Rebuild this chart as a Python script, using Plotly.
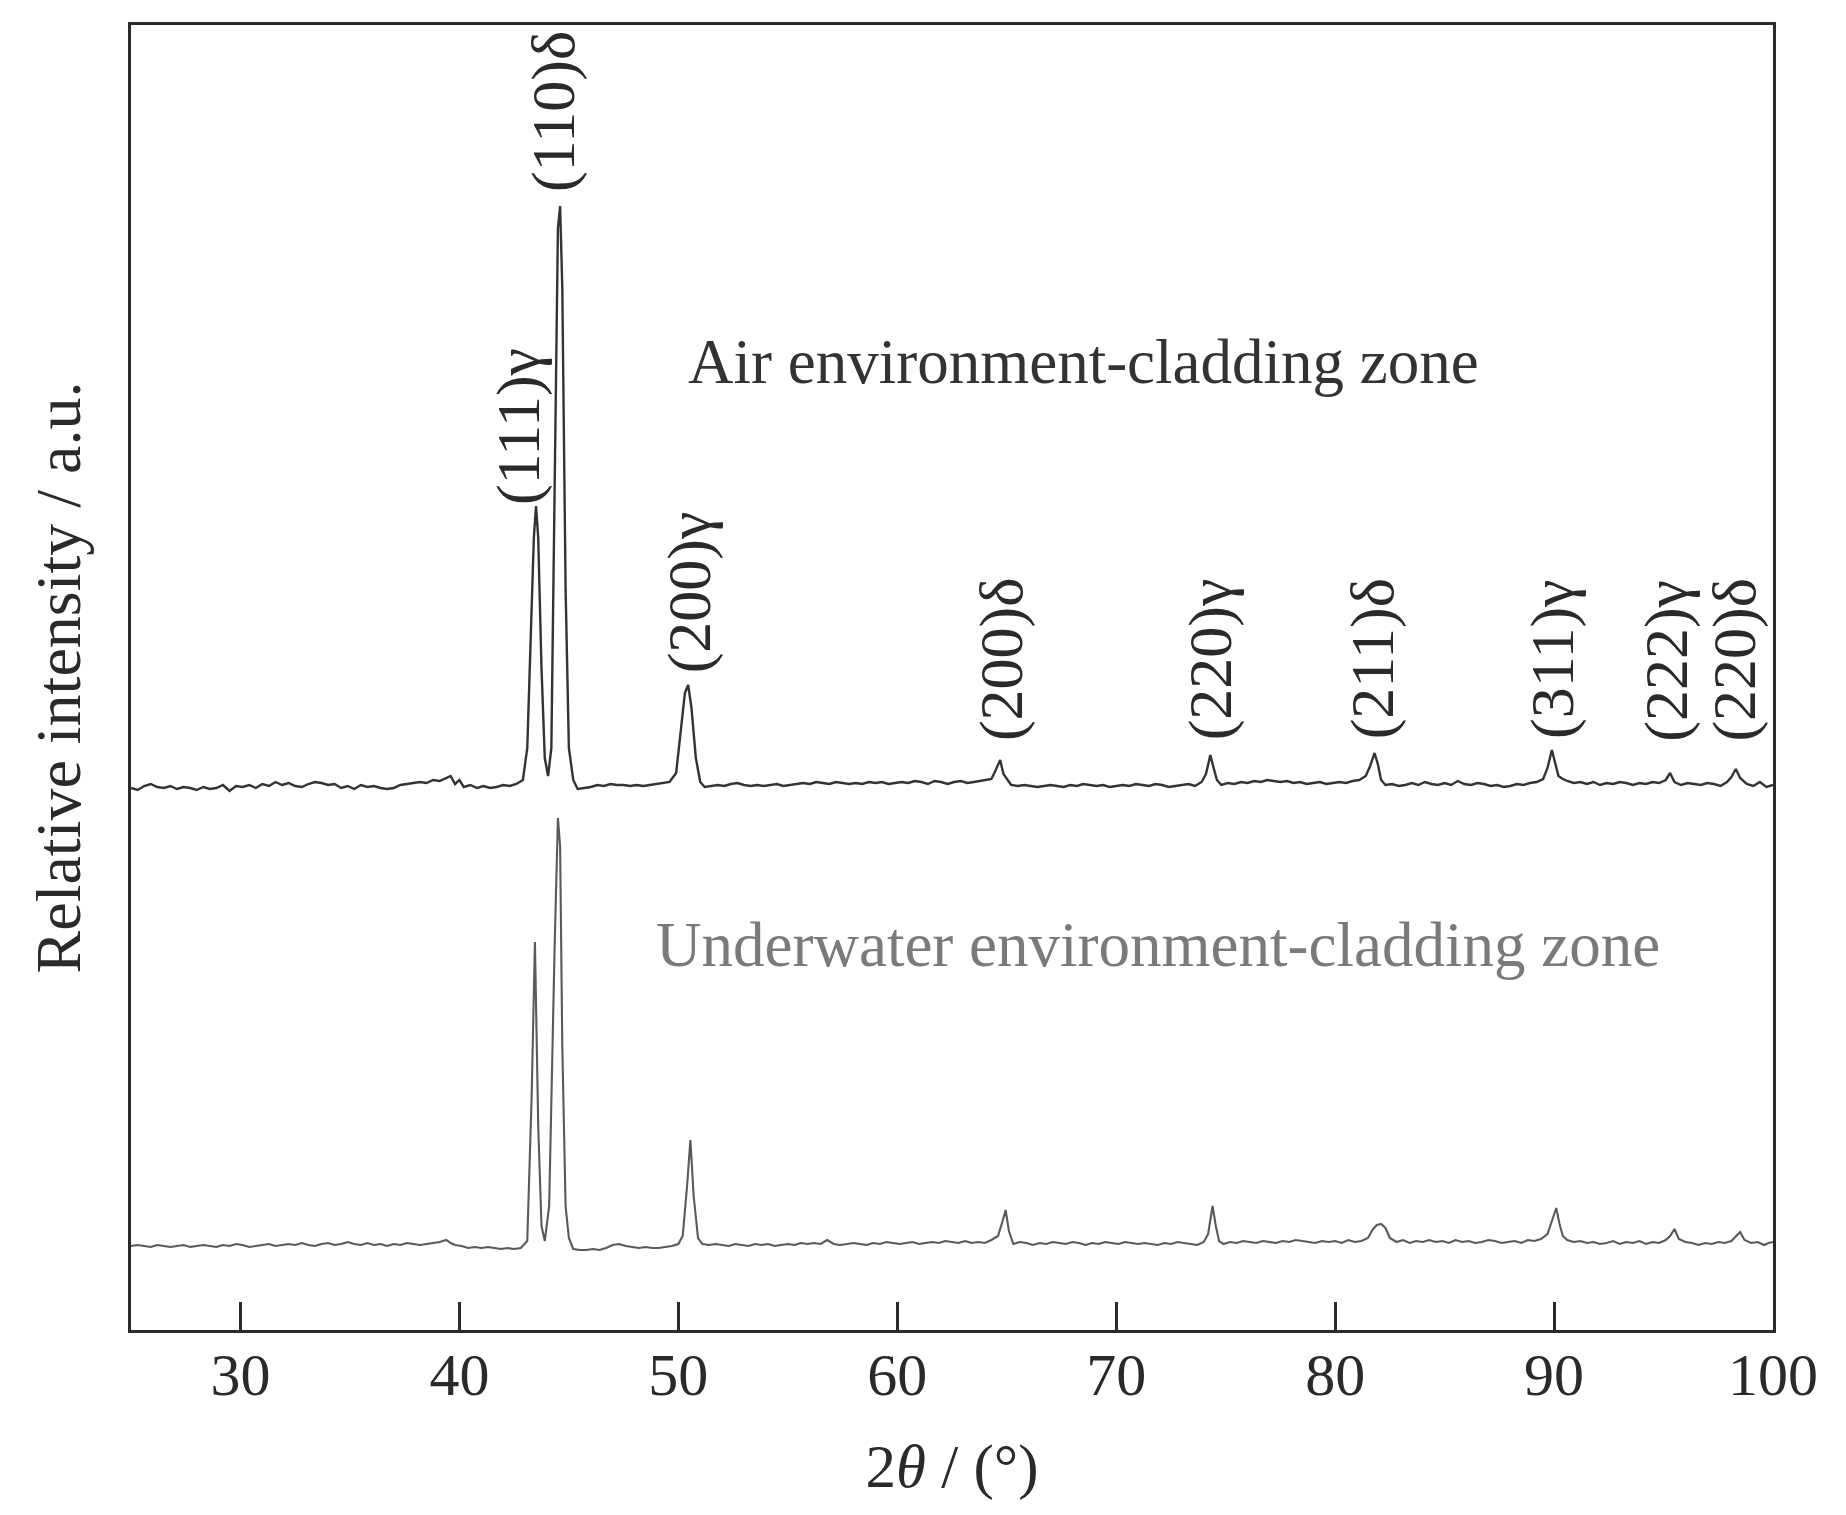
import plotly.graph_objects as go

# ---------------- data ----------------
# Air environment-cladding zone: 2theta (deg) and intensity above its own baseline (a.u.)
air_two_theta = [
    25.0, 25.3, 25.6, 25.9, 26.2, 26.5, 26.8, 27.1, 27.4, 27.7, 28.0, 28.3, 28.6, 28.9,
    29.2, 29.5, 29.8, 30.1, 30.4, 30.7, 31.0, 31.3, 31.6, 31.9, 32.2, 32.5, 32.8, 33.1,
    33.4, 33.7, 34.0, 34.3, 34.6, 34.9, 35.2, 35.5, 35.8, 36.1, 36.4, 36.7, 37.0, 37.3,
    37.6, 37.9, 38.2, 38.5, 38.8, 39.1, 39.4, 39.6, 39.8, 40.0, 40.2, 40.5, 40.8, 41.1,
    41.4, 41.7, 42.0, 42.3, 42.6, 42.9, 43.1, 43.25, 43.4, 43.5, 43.6, 43.75, 43.9, 44.05,
    44.2, 44.35, 44.5, 44.6, 44.7, 44.85, 45.0, 45.2, 45.4, 45.7, 46.0, 46.3, 46.6, 46.9,
    47.2, 47.5, 47.8, 48.1, 48.4, 48.7, 49.0, 49.3, 49.6, 49.9, 50.1, 50.3, 50.45, 50.6,
    50.8, 51.0, 51.2, 51.5, 51.8, 52.1, 52.4, 52.7, 53.0, 53.3, 53.6, 53.9, 54.2, 54.5,
    54.8, 55.1, 55.4, 55.7, 56.0, 56.3, 56.6, 56.9, 57.2, 57.5, 57.8, 58.1, 58.4, 58.7,
    59.0, 59.3, 59.6, 59.9, 60.2, 60.5, 60.8, 61.1, 61.4, 61.7, 62.0, 62.3, 62.6, 62.9,
    63.2, 63.5, 63.8, 64.1, 64.3, 64.5, 64.7, 64.85, 65.0, 65.2, 65.5, 65.8, 66.1, 66.4,
    66.7, 67.0, 67.3, 67.6, 67.9, 68.2, 68.5, 68.8, 69.1, 69.4, 69.7, 70.0, 70.3, 70.6,
    70.9, 71.2, 71.5, 71.8, 72.1, 72.4, 72.7, 73.0, 73.3, 73.6, 73.9, 74.1, 74.3, 74.45,
    74.6, 74.8, 75.1, 75.4, 75.7, 76.0, 76.3, 76.6, 76.9, 77.2, 77.5, 77.8, 78.1, 78.4,
    78.7, 79.0, 79.3, 79.6, 79.9, 80.2, 80.5, 80.8, 81.1, 81.4, 81.6, 81.8, 81.95, 82.1,
    82.3, 82.6, 82.9, 83.2, 83.5, 83.8, 84.1, 84.4, 84.7, 85.0, 85.3, 85.6, 85.9, 86.2,
    86.5, 86.8, 87.1, 87.4, 87.7, 88.0, 88.3, 88.6, 88.9, 89.2, 89.5, 89.7, 89.9, 90.05,
    90.2, 90.4, 90.6, 90.9, 91.2, 91.5, 91.8, 92.1, 92.4, 92.7, 93.0, 93.3, 93.6, 93.9,
    94.2, 94.5, 94.8, 95.1, 95.3, 95.5, 95.8, 96.1, 96.4, 96.7, 97.0, 97.3, 97.6, 97.9,
    98.1, 98.3, 98.5, 98.8, 99.1, 99.4, 99.7, 100.0,
]
air_intensity = [
    0, -2, 2, 4, 1, 0, 2, -1, 1, 0, -2, 1, -1, 0,
    3, -3, 2, 1, 3, 0, 4, 2, 6, 3, 5, 2, 1, 4,
    6, 5, 3, 4, 0, 2, -1, 3, 1, 2, 0, -1, 0, 3,
    4, 5, 6, 5, 8, 7, 10, 12, 4, 8, 1, 3, 0, 2,
    0, 1, 3, 2, 4, 8, 40, 150, 250, 282, 250, 120, 30, 12,
    40, 300, 560, 582, 500, 200, 40, 8, -1, 0, 1, 3, 2, 4,
    3, 3, 2, 3, 2, 3, 4, 5, 6, 15, 55, 95, 103, 80,
    30, 6, 1, 2, 3, 2, 4, 5, 3, 2, 3, 2, 3, 4,
    2, 3, 4, 5, 4, 6, 5, 4, 6, 5, 4, 5, 4, 6,
    5, 6, 4, 5, 6, 5, 7, 6, 4, 7, 6, 4, 6, 7,
    5, 6, 7, 8, 9, 18, 28, 14, 9, 3, 2, 3, 2, 1,
    2, 3, 2, 1, 3, 2, 4, 3, 2, 3, 1, 2, 3, 2,
    4, 3, 2, 4, 3, 1, 2, 3, 4, 2, 6, 14, 33, 20,
    8, 3, 5, 4, 6, 5, 7, 6, 8, 7, 6, 7, 5, 6,
    4, 5, 6, 4, 5, 6, 5, 7, 8, 12, 22, 35, 24, 8,
    3, 4, 2, 3, 5, 3, 6, 4, 3, 5, 3, 7, 4, 3,
    5, 4, 2, 3, 1, 2, 4, 3, 5, 6, 9, 20, 38, 26,
    12, 9, 7, 5, 6, 4, 6, 3, 5, 4, 6, 5, 3, 5,
    4, 6, 5, 8, 15, 6, 3, 5, 4, 3, 5, 4, 2, 6,
    11, 19, 10, 4, 2, 6, 1, 3,
]

# Underwater environment-cladding zone
water_two_theta = [
    25.0, 25.3, 25.6, 25.9, 26.2, 26.5, 26.8, 27.1, 27.4, 27.7, 28.0, 28.3, 28.6, 28.9,
    29.2, 29.5, 29.8, 30.1, 30.4, 30.7, 31.0, 31.3, 31.6, 31.9, 32.2, 32.5, 32.8, 33.1,
    33.4, 33.7, 34.0, 34.3, 34.6, 34.9, 35.2, 35.5, 35.8, 36.1, 36.4, 36.7, 37.0, 37.3,
    37.6, 37.9, 38.2, 38.5, 38.8, 39.1, 39.4, 39.6, 39.8, 40.1, 40.4, 40.7, 41.0, 41.3,
    41.6, 41.9, 42.2, 42.5, 42.8, 43.1, 43.3, 43.45, 43.6, 43.75, 43.9, 44.1, 44.35, 44.5,
    44.6, 44.7, 44.85, 45.0, 45.2, 45.5, 45.8, 46.1, 46.4, 46.7, 47.0, 47.3, 47.6, 47.9,
    48.2, 48.5, 48.8, 49.1, 49.4, 49.7, 50.0, 50.2, 50.4, 50.55, 50.7, 50.9, 51.1, 51.4,
    51.7, 52.0, 52.3, 52.6, 52.9, 53.2, 53.5, 53.8, 54.1, 54.4, 54.7, 55.0, 55.3, 55.6,
    55.9, 56.2, 56.5, 56.8, 57.1, 57.4, 57.7, 58.0, 58.3, 58.6, 58.9, 59.2, 59.5, 59.8,
    60.1, 60.4, 60.7, 61.0, 61.3, 61.6, 61.9, 62.2, 62.5, 62.8, 63.1, 63.4, 63.7, 64.0,
    64.3, 64.6, 64.8, 64.95, 65.1, 65.3, 65.6, 65.9, 66.2, 66.5, 66.8, 67.1, 67.4, 67.7,
    68.0, 68.3, 68.6, 68.9, 69.2, 69.5, 69.8, 70.1, 70.4, 70.7, 71.0, 71.3, 71.6, 71.9,
    72.2, 72.5, 72.8, 73.1, 73.4, 73.7, 74.0, 74.2, 74.4, 74.55, 74.7, 74.9, 75.2, 75.5,
    75.8, 76.1, 76.4, 76.7, 77.0, 77.3, 77.6, 77.9, 78.2, 78.5, 78.8, 79.1, 79.4, 79.7,
    80.0, 80.3, 80.6, 80.9, 81.2, 81.5, 81.7, 81.9, 82.1, 82.3, 82.5, 82.8, 83.1, 83.4,
    83.7, 84.0, 84.3, 84.6, 84.9, 85.2, 85.5, 85.8, 86.1, 86.4, 86.7, 87.0, 87.3, 87.6,
    87.9, 88.2, 88.5, 88.8, 89.1, 89.4, 89.7, 89.9, 90.1, 90.25, 90.4, 90.6, 90.9, 91.2,
    91.5, 91.8, 92.1, 92.4, 92.7, 93.0, 93.3, 93.6, 93.9, 94.2, 94.5, 94.8, 95.1, 95.3,
    95.5, 95.7, 96.0, 96.3, 96.6, 96.9, 97.2, 97.5, 97.8, 98.1, 98.3, 98.5, 98.7, 99.0,
    99.3, 99.6, 99.8, 100.0,
]
water_intensity = [
    0, 1, 0, -1, 1, 0, -1, 0, 1, -1, 0, 1, 0, -1,
    1, 0, 2, 1, -1, 0, 1, 2, 0, 1, 2, 1, 3, 1,
    0, 2, 3, 1, 2, 4, 2, 1, 3, 1, 2, 0, 2, 1,
    3, 2, 1, 2, 3, 4, 6, 3, 1, 0, -2, -1, -2, -1,
    -2, -3, -2, -3, -2, 5, 150, 304, 120, 20, 5, 40, 300, 428,
    400, 200, 40, 8, -3, -4, -4, -3, -4, -2, 1, 2, 0, -1,
    -2, -1, -2, -2, -1, 0, 2, 10, 60, 106, 50, 8, 2, 1,
    2, 1, 0, 2, 1, 0, 2, 1, 2, 0, 1, 2, 1, 3,
    2, 3, 2, 6, 2, 1, 2, 3, 2, 1, 3, 2, 4, 3,
    2, 3, 4, 2, 3, 4, 3, 5, 4, 3, 5, 3, 4, 3,
    6, 10, 24, 36, 15, 2, 4, 3, 1, 3, 2, 4, 3, 2,
    4, 3, 1, 3, 2, 4, 3, 2, 4, 3, 2, 3, 2, 1,
    3, 2, 4, 3, 2, 1, 4, 12, 40, 20, 5, 2, 4, 3,
    5, 4, 3, 5, 4, 3, 5, 4, 6, 5, 4, 3, 5, 4,
    5, 3, 6, 4, 5, 8, 16, 21, 22, 18, 8, 4, 6, 3,
    5, 4, 6, 4, 5, 3, 6, 4, 5, 3, 4, 6, 5, 3,
    4, 5, 3, 6, 5, 7, 12, 24, 38, 22, 10, 6, 4, 5,
    3, 4, 2, 3, 5, 2, 4, 3, 5, 2, 4, 3, 6, 10,
    17, 7, 4, 3, 1, 3, 2, 4, 3, 5, 9, 14, 6, 3,
    4, 1, 3, 4,
]

peak_labels = ["(111)γ", "(110)δ", "(200)γ", "(200)δ", "(220)γ",
               "(211)δ", "(311)γ", "(222)γ", "(220)δ"]
label_two_theta = [42.68, 44.28, 50.5, 64.74, 74.3, 81.7, 89.9, 95.1, 98.2]
label_height = [903, 1218, 738, 671, 671, 671, 671, 669, 670]

x_tick_values = [30, 40, 50, 60, 70, 80, 90, 100]

# stacking offsets (a.u.)
AIR_OFFSET = 542
WATER_OFFSET = 84

# ---------------- figure ----------------
air_y = [v + AIR_OFFSET for v in air_intensity]
water_y = [v + WATER_OFFSET for v in water_intensity]

fig = go.Figure()
fig.add_trace(go.Scatter(x=air_two_theta, y=air_y, mode="lines",
                         line=dict(color="#333333", width=2.4),
                         name="Air environment-cladding zone", showlegend=False))
fig.add_trace(go.Scatter(x=water_two_theta, y=water_y, mode="lines",
                         line=dict(color="#5a5a5a", width=2.1),
                         name="Underwater environment-cladding zone", showlegend=False))

FONT = "Liberation Serif, Times New Roman, serif"

annotations = []
for txt, xv, yv in zip(peak_labels, label_two_theta, label_height):
    annotations.append(dict(x=xv, y=yv, xref="x", yref="y", text=txt, showarrow=False,
                            textangle=-90, xanchor="center", yanchor="middle",
                            font=dict(family=FONT, size=62, color="#2a2a2a")))

annotations.append(dict(x=68.5, y=968, xref="x", yref="y",
                        text="Air environment-cladding zone", showarrow=False,
                        xanchor="center", yanchor="middle",
                        font=dict(family=FONT, size=63, color="#333333")))
annotations.append(dict(x=71.9, y=385, xref="x", yref="y",
                        text="Underwater environment-cladding zone", showarrow=False,
                        xanchor="center", yanchor="middle",
                        font=dict(family=FONT, size=63, color="#7a7a7a")))

fig.update_layout(
    width=1846, height=1515,
    margin=dict(l=131, r=73, t=25, b=185),
    paper_bgcolor="white", plot_bgcolor="white",
    annotations=annotations,
    font=dict(family=FONT, color="#2a2a2a"),
)
fig.update_xaxes(
    range=[25, 100], tickvals=x_tick_values, ticks="inside", ticklen=28, tickwidth=2.5,
    tickcolor="#2a2a2a", showline=True, linewidth=2.5, linecolor="#2a2a2a", mirror=True,
    showgrid=False, zeroline=False, ticklabelstandoff=-10,
    tickfont=dict(family=FONT, size=60, color="#2a2a2a"),
    title=dict(text="2<i>θ</i> / (°)", font=dict(family=FONT, size=61, color="#2a2a2a"),
               standoff=38),
)
fig.update_yaxes(
    range=[0, 1305], showticklabels=False, ticks="", showline=True, linewidth=2.5,
    linecolor="#2a2a2a", mirror=True, showgrid=False, zeroline=False,
    title=dict(text="Relative intensity / a.u.", font=dict(family=FONT, size=64, color="#2a2a2a"),
               standoff=27),
)

fig.write_html("out.html")
